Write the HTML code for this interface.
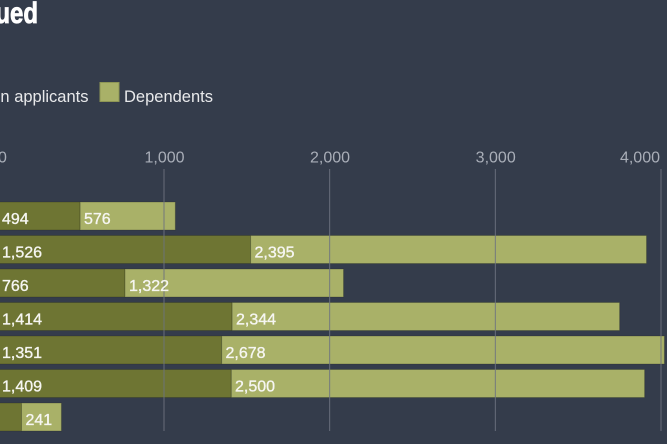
<!DOCTYPE html>
<html>
<head>
<meta charset="utf-8">
<style>
  html, body { margin: 0; padding: 0; background: #343c4b; }
  body { width: 667px; height: 444px; overflow: hidden; }
  svg { display: block; }
  text { font-family: "Liberation Sans", Arial, sans-serif; }
</style>
</head>
<body>
<svg width="667" height="444" viewBox="0 0 667 444" xmlns="http://www.w3.org/2000/svg">
  <rect x="0" y="0" width="667" height="444" fill="#343c4b"/>

  <!-- Title (cropped) -->
  <text transform="translate(38,23) scale(0.8,1)" text-anchor="end" font-size="30" font-weight="bold" fill="#ffffff" stroke="#ffffff" stroke-width="0.8">Visas issued</text>

  <!-- Legend -->
  <text x="88.5" y="102" text-anchor="end" font-size="16.5" fill="#e8e9eb">Main applicants</text>
  <rect x="100" y="82.5" width="19" height="19" fill="#a9b168" stroke="#8e9655" stroke-width="1"/>
  <text x="124" y="102" font-size="16.5" fill="#e8e9eb">Dependents</text>

  <!-- Axis labels -->
  <g font-size="16" fill="#a9aeb8">
    <text x="-2" y="162.5" text-anchor="start">0</text>
    <text x="164.5" y="162.5" text-anchor="middle">1,000</text>
    <text x="330" y="162.5" text-anchor="middle">2,000</text>
    <text x="495.7" y="162.5" text-anchor="middle">3,000</text>
    <text x="660" y="162.5" text-anchor="end">4,000</text>
  </g>

  <!-- Bars -->
  <g stroke="rgba(30,35,20,0.25)" stroke-width="1">
    <rect x="-2" y="202" width="82.1" height="28" fill="#6e7533"/>
    <rect x="80.1" y="202" width="95.2" height="28" fill="#a9b168"/>
    <rect x="-2" y="235.5" width="252.6" height="28" fill="#6e7533"/>
    <rect x="250.6" y="235.5" width="395.9" height="28" fill="#a9b168"/>
    <rect x="-2" y="269" width="127" height="28" fill="#6e7533"/>
    <rect x="125" y="269" width="218.5" height="28" fill="#a9b168"/>
    <rect x="-2" y="302.5" width="234.1" height="28" fill="#6e7533"/>
    <rect x="232.1" y="302.5" width="387.5" height="28" fill="#a9b168"/>
    <rect x="-2" y="336" width="223.7" height="28" fill="#6e7533"/>
    <rect x="221.7" y="336" width="442.7" height="28" fill="#a9b168"/>
    <rect x="-2" y="369.5" width="233.3" height="28" fill="#6e7533"/>
    <rect x="231.3" y="369.5" width="413.3" height="28" fill="#a9b168"/>
    <rect x="-2" y="403" width="23.5" height="28" fill="#6e7533"/>
    <rect x="21.5" y="403" width="39.9" height="28" fill="#a9b168"/>
  </g>

  <!-- Gridlines (drawn over bars) -->
  <g stroke="#6d7380" stroke-width="1.2" stroke-opacity="0.75">
    <line x1="164" y1="169" x2="164" y2="431"/>
    <line x1="329.6" y1="169" x2="329.6" y2="431"/>
    <line x1="495.4" y1="169" x2="495.4" y2="431"/>
    <line x1="661" y1="169" x2="661" y2="431"/>
  </g>

  <!-- Bar labels -->
  <g font-size="16" fill="#f6f6f2" stroke="#f6f6f2" stroke-width="0.35">
    <text x="2" y="224">494</text>
    <text x="84" y="224">576</text>

    <text x="2" y="257.5">1,526</text>
    <text x="254.5" y="257.5">2,395</text>

    <text x="2" y="291">766</text>
    <text x="129" y="291">1,322</text>

    <text x="2" y="324.5">1,414</text>
    <text x="236" y="324.5">2,344</text>

    <text x="2" y="358">1,351</text>
    <text x="225.5" y="358">2,678</text>

    <text x="2" y="391.5">1,409</text>
    <text x="235" y="391.5">2,500</text>

    <text x="25.5" y="425">241</text>
  </g>
</svg>
</body>
</html>
